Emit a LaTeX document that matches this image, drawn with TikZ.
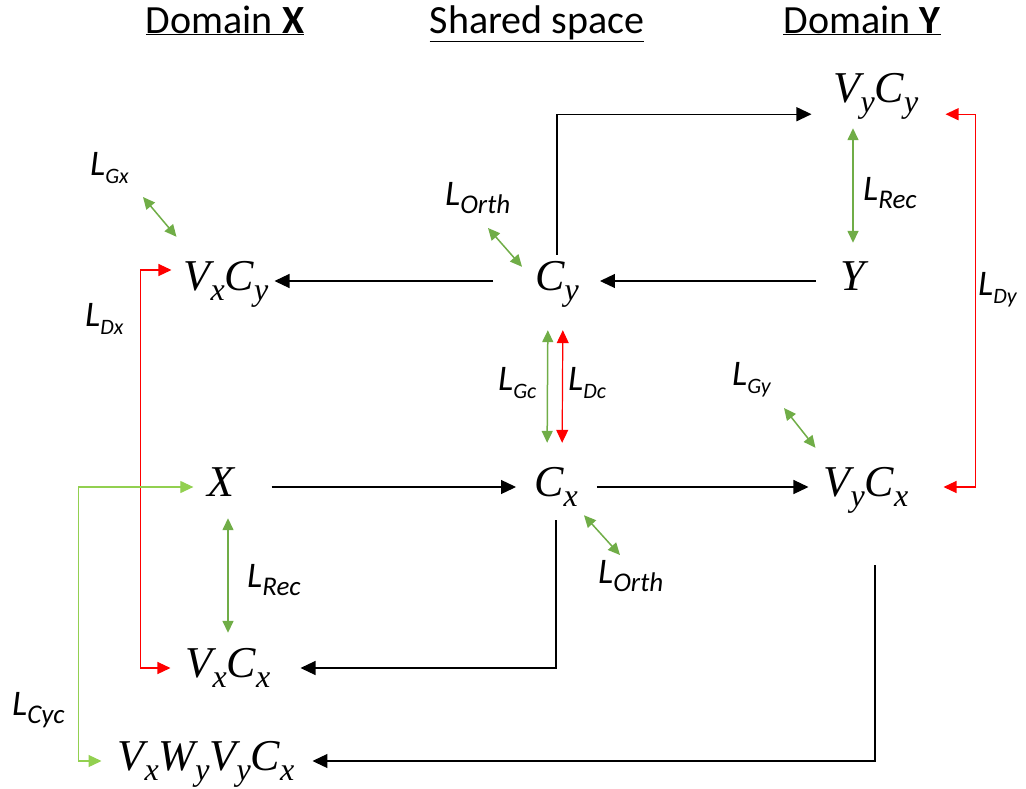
\documentclass[tikz,border=0pt]{standalone}
\usepackage{fontspec}
\setmainfont{Carlito}
\newfontfamily\tnr{Liberation Serif}
\usepackage{tikz}
\usetikzlibrary{arrows.meta,positioning}

\definecolor{lossgreen}{HTML}{70AD47}
\definecolor{cycgreen}{HTML}{92D050}
\definecolor{discred}{HTML}{FF0000}

% subscript for the mappings, loss names
\newcommand{\lowsub}[1]{\raisebox{-10pt}{\fontsize{32}{34}\selectfont #1}}
\newcommand{\Lbig}[1]{{\fontsize{36}{40}\selectfont\itshape L}\raisebox{-8pt}{\fontsize{27}{30}\selectfont\itshape #1}}
\newcommand{\Lsmall}[1]{{\fontsize{36}{40}\selectfont\itshape L}\raisebox{-8pt}{\fontsize{22}{24}\selectfont\itshape #1}}

\begin{document}
\begin{tikzpicture}[x=1pt,y=-1pt,
space/.style={inner sep=0pt, font=\fontsize{40}{44}\selectfont},
mapping/.style={inner sep=0pt, text height=30pt, text depth=12pt, font=\tnr\itshape\fontsize{44}{48}\selectfont},
lossname/.style={inner sep=0pt, anchor=base west},
flow/.style={-{Triangle[length=15pt,width=14pt]}, line width=1.2pt, black},
loss/.style={{Triangle[length=12pt,width=11pt]}-{Triangle[length=12pt,width=11pt]}, line width=1.5pt, lossgreen},
disc/.style={{Triangle[length=13pt,width=12pt]}-{Triangle[length=13pt,width=12pt]}, line width=1.2pt, discred},
cyc/.style={{Triangle[length=13pt,width=12pt]}-{Triangle[length=13pt,width=12pt]}, line width=1.2pt, cycgreen}
]
\useasboundingbox (0,0) rectangle (1026,788);

%% Nodes   %%%%%%%%%%%%%%%%%%%%%%%%%%%%%%%%%%%%%%%%%%%%%%%%%%%%%%%%%%%%%%%%%%%%%%%

%% Spaces
\node [space, anchor=base] (DX) at (225,33) {\underline{Domain \textbf{X}}};
\node [space, anchor=base] (SH) at (537,33) {\underline{Shared space}};
\node [space, anchor=base] (DY) at (862,33) {\underline{Domain \textbf{Y}}};

%% Mappings
\node [mapping] (VyCy) at (876,93)  {V\lowsub{y}C\lowsub{y}};
\node [mapping] (VxCy) at (226,281) {V\lowsub{x}C\lowsub{y}};
\node [mapping] (Cy)   at (557,281) {C\lowsub{y}};
\node [mapping] (Y)    at (853,281) {Y};
\node [mapping] (X)    at (221,487) {X};
\node [mapping] (Cx)   at (556,487) {C\lowsub{x}};
\node [mapping] (VyCx) at (866,487) {V\lowsub{y}C\lowsub{x}};
\node [mapping] (VxCx) at (228,668) {V\lowsub{x}C\lowsub{x}};
\node [mapping] (VxWyVyCx) at (206,761) {V\lowsub{x}W\lowsub{y}V\lowsub{y}C\lowsub{x}};

%% Losses
\node [lossname] (LGx)   at (90,175)  {\Lsmall{Gx}};
\node [lossname] (LDx)   at (85,326)  {\Lsmall{Dx}};
\node [lossname] (LOrtY) at (445,205) {\Lbig{Orth}};
\node [lossname] (LGc)   at (498,390) {\Lsmall{Gc}};
\node [lossname] (LDc)   at (568,390) {\Lsmall{Dc}};
\node [lossname] (LRecY) at (863,200) {\Lbig{Rec}};
\node [lossname] (LDy)   at (978,295) {\Lsmall{Dy}};
\node [lossname] (LGy)   at (732,385) {\Lsmall{Gy}};
\node [lossname] (LOrtX) at (598,583) {\Lbig{Orth}};
\node [lossname] (LRecX) at (247,587) {\Lbig{Rec}};
\node [lossname] (LCyc)  at (12,715)  {\Lbig{Cyc}};

\coordinate (gx) at (143,197);
\coordinate (oy) at (488,228);
\coordinate (gy) at (784,408);
\coordinate (ox) at (620,555);

%% Pfeile %%%%%%%%%%%%%%%%%%%%%%%%%%%%%%%%%%%%%%%%%%%%%%%%%%%%%%%%%%%%%%%%%%%%%%%%%%

%% Encoder / Decoder
\draw [flow, shorten <=25pt, shorten >=21pt] (Y) -- (Cy);
\draw [flow, shorten <=42pt, shorten >=6pt]  (Cy) -- (VxCy);
\draw [flow, shorten <=5pt, shorten >=22pt]  (Cy.north) |- (VyCy.south west);
\draw [flow, shorten <=37pt, shorten >=18pt] (X) -- (Cx);
\draw [flow, shorten <=19pt, shorten >=15pt] (Cx) -- (VyCx);
\draw [flow, shorten <=12pt, shorten >=30pt] (Cx.south) |- (VxCx.east);
\draw [flow, shorten <=57pt, shorten >=18pt] ([xshift=9pt]VyCx.south) |- (VxWyVyCx.east);

%% Generator / Reconstruction / Orthogonality
\draw [loss, shorten <=10pt, shorten >=14pt] (VxCx.north |- X.south) -- (VxCx.north);
\draw [loss, shorten <=17pt, shorten >=14pt] (Y.north) -- (Y.north |- VyCy.south);
\draw [loss, shorten <=28pt, shorten >=23pt] ([xshift=-9pt]Cy.south) -- ([xshift=-9pt]Cx.north);
\draw [loss] (gx) -- ([xshift=-7pt,yshift=23pt]VxCy.north west);
\draw [loss] (oy) -- ([xshift=-13pt,yshift=-7pt]Cy.north west);
\draw [loss] (gy) -- ([xshift=-8pt,yshift=18pt]VyCx.north west);
\draw [loss] ([xshift=6pt,yshift=-7pt]Cx.south east) -- (ox);

%% Discriminators
\draw [disc, shorten <=28pt, shorten >=23pt] ([xshift=6pt]Cy.south) -- ([xshift=6pt]Cx.north);
\draw [disc, shorten <=12pt, shorten >=15pt] ([yshift=11pt]VxCy.west) -- ++(-43,0) |- (VxCx.west);
\draw [disc, shorten <=27pt, shorten >=35pt] (VyCy.south east) -- ++(57,0) |- (VyCx.east);

%% Cycle
\draw [cyc, shorten <=14pt, shorten >=16pt] (X.west) -- ++(-129,0) |- (VxWyVyCx.west);

\end{tikzpicture}
\end{document}
